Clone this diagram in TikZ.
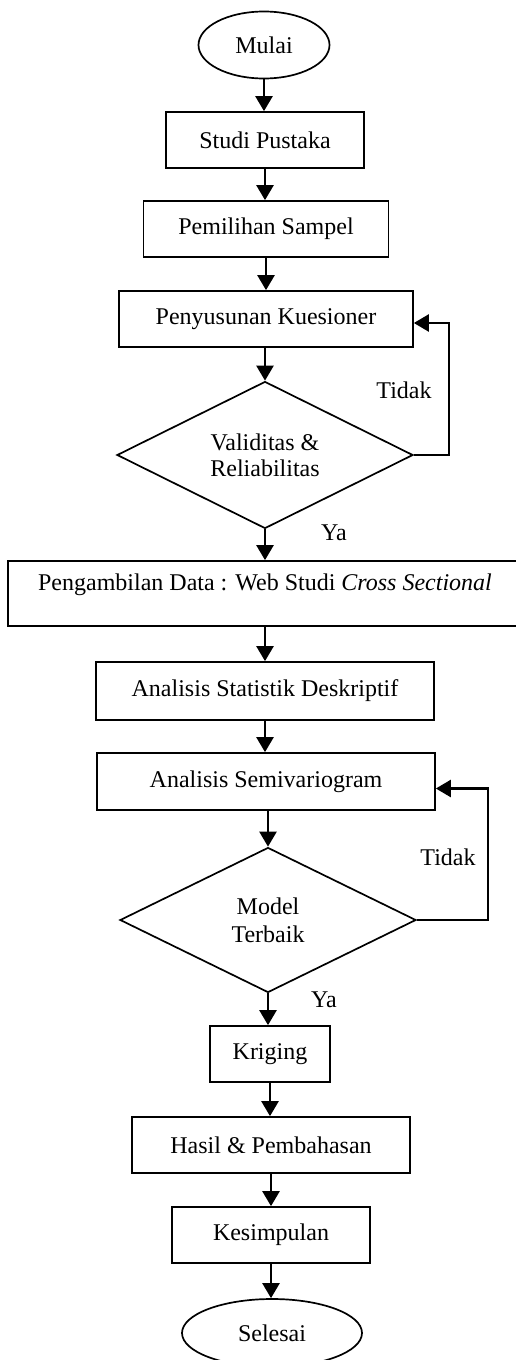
\documentclass[tikz,border=0pt]{standalone}
\usepackage{fontspec}
\setmainfont{Liberation Serif}
\usetikzlibrary{shapes.geometric,arrows.meta,calc}
\begin{document}
\begin{tikzpicture}[x=1pt,y=-1pt,
  every node/.style={font=\fontsize{24}{26}\selectfont},
  box/.style={draw,line width=1.7pt,rectangle,inner sep=0pt},
  term/.style={draw,line width=1.7pt,ellipse,inner sep=0pt},
  dec/.style={draw,line width=1.7pt,diamond,aspect=2,inner sep=0pt,align=center},
  arr/.style={line width=2.4pt,-{Triangle[length=15pt,width=17pt]}},
  lbl/.style={inner sep=0pt}]
\clip (0,0) rectangle (516,1360);
\node[term,minimum width=131pt,minimum height=67pt] (mulai) at (264,45) {Mulai};
\node[box,minimum width=198pt,minimum height=56pt] (sp) at (265,140) {Studi Pustaka};
\node[box,minimum width=245pt,minimum height=56pt] (ps) at (266,229) {Pemilihan Sampel};
\node[box,minimum width=294pt,minimum height=56pt] (pk) at (266,319) {Penyusunan Kuesioner};
\node[dec,minimum width=296pt,minimum height=147pt] (d1) at (265,455) {Validitas \&\\Reliabilitas};
\node[box,minimum width=512pt,minimum height=65pt] (peng) at (264,593.5) {};
\node[lbl] (pengt) at (265,585) {Pengambilan Data : Web Studi \textit{Cross Sectional}};
\node[box,minimum width=338pt,minimum height=58pt] (asd) at (265,691) {Analisis Statistik Deskriptif};
\node[box,minimum width=338pt,minimum height=57pt] (as) at (266,781.5) {Analisis Semivariogram};
\node[dec,minimum width=296pt,minimum height=145pt,font=\fontsize{24}{28}\selectfont] (d2) at (268,920) {Model\\Terbaik};
\node[box,minimum width=120pt,minimum height=56pt] (kr) at (270,1054) {Kriging};
\node[box,minimum width=278pt,minimum height=56pt] (hp) at (271,1145) {Hasil \& Pembahasan};
\node[box,minimum width=198pt,minimum height=56pt] (ks) at (271,1235) {Kesimpulan};
\node[term,minimum width=180pt,minimum height=68pt] (sel) at (272,1333) {Selesai};

\draw[arr] (mulai.south) -- (mulai.south |- sp.north);
\draw[arr] (sp.south) -- (sp.south |- ps.north);
\draw[arr] (ps.south) -- (ps.south |- pk.north);
\draw[arr] (d1.north |- pk.south) -- (d1.north);
\draw[arr] (d1.south) -- (d1.south |- peng.north);
\draw[arr] (asd.north |- peng.south) -- (asd.north);
\draw[arr] (asd.south) -- (asd.south |- as.north);
\draw[arr] (d2.north |- as.south) -- (d2.north);
\draw[arr] (d2.south) -- (d2.south |- kr.north);
\draw[arr] (kr.south) -- (kr.south |- hp.north);
\draw[arr] (hp.south) -- (hp.south |- ks.north);
\draw[arr] (ks.south) -- (ks.south |- sel.north);

\draw[arr] (d1.east) -- ++(35,0) |- ([yshift=-4pt]pk.east);
\draw[arr] (d2.east) -- ++(71,0) |- ([yshift=-7pt]as.east);

\node[lbl] (t1) at (404,390) {Tidak};
\node[lbl] (y1) at (334,533) {Ya};
\node[lbl] (t2) at (448,857) {Tidak};
\node[lbl] (y2) at (324,1000) {Ya};
\end{tikzpicture}
\end{document}
